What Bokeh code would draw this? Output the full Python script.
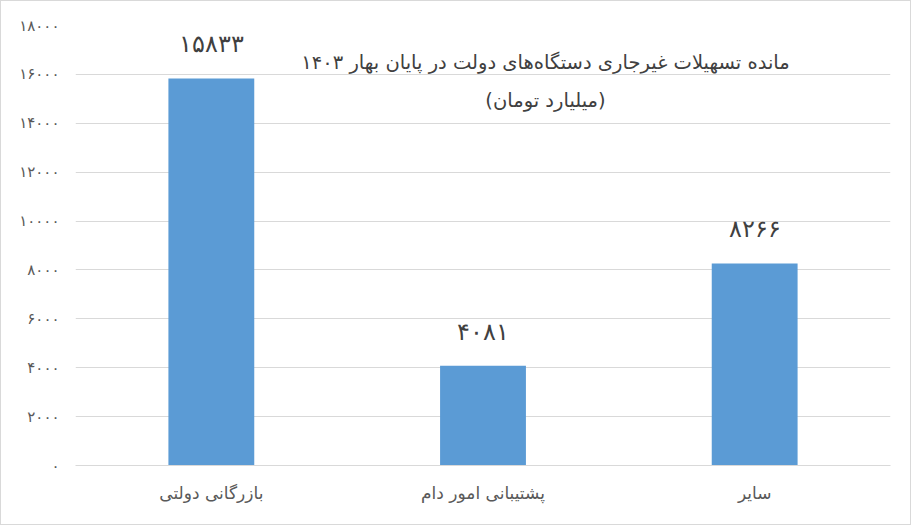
from bokeh.plotting import figure
from bokeh.models import ColumnDataSource, LabelSet, Label, Range1d, FixedTicker
from bokeh.embed import file_html
from bokeh.resources import INLINE

categories = ["بازرگانی دولتی", "پشتیبانی امور دام", "سایر"]
values = [15833, 4081, 8266]
y_ticks = [0, 2000, 4000, 6000, 8000, 10000, 12000, 14000, 16000, 18000]
title_lines = ["مانده تسهیلات غیرجاری دستگاه‌های دولت در پایان بهار ۱۴۰۳", "(میلیارد تومان)"]

FONT = "DejaVu Sans"
PERSIAN = str.maketrans("0123456789", "۰۱۲۳۴۵۶۷۸۹")


def fa(n):
    return str(n).translate(PERSIAN)


source = ColumnDataSource(data=dict(cat=categories, val=values, lab=[fa(v) for v in values]))

p = figure(
    x_range=categories,
    y_range=Range1d(0, 18000),
    width=911, height=525,
    output_backend="svg",
    toolbar_location=None,
    min_border_left=74, min_border_right=22,
    min_border_top=24, min_border_bottom=61,
)
p.styles = {"border": "1px solid #d9d9d9"}
p.outline_line_color = None
p.background_fill_color = "white"
p.border_fill_color = "white"

p.vbar(x="cat", top="val", width=0.316, source=source, color="#5b9bd5", line_color=None)

labels = LabelSet(x="cat", y="val", text="lab", source=source, text_align="center",
                  text_baseline="bottom", y_offset=21, text_font_size="24px",
                  text_color="#404040", text_font=FONT)
p.add_layout(labels)

p.xgrid.grid_line_color = None
p.ygrid.grid_line_color = "#d9d9d9"
p.ygrid.ticker = FixedTicker(ticks=y_ticks)

p.yaxis.ticker = FixedTicker(ticks=y_ticks)
p.yaxis.major_label_overrides = {t: fa(t) for t in y_ticks}
p.yaxis.axis_line_color = None
p.yaxis.major_tick_line_color = None
p.yaxis.minor_tick_line_color = None
p.yaxis.major_label_standoff = 10
p.yaxis.major_label_text_font = FONT
p.yaxis.major_label_text_font_size = "15px"
p.yaxis.major_label_text_color = "#595959"

p.xaxis.axis_line_color = "#d9d9d9"
p.xaxis.major_tick_line_color = None
p.xaxis.minor_tick_line_color = None
p.xaxis.major_label_standoff = 11
p.xaxis.major_label_text_font = FONT
p.xaxis.major_label_text_font_size = "17px"
p.xaxis.major_label_text_color = "#595959"

for i, line in enumerate(title_lines):
    p.add_layout(Label(x=470, y=403 - 38 * i, x_units="screen", y_units="screen",
                       text=line, text_align="center", text_baseline="middle",
                       text_font=FONT, text_font_size="19.5px", text_color="#404040"))

open("out.html", "w").write(file_html(p, INLINE))
